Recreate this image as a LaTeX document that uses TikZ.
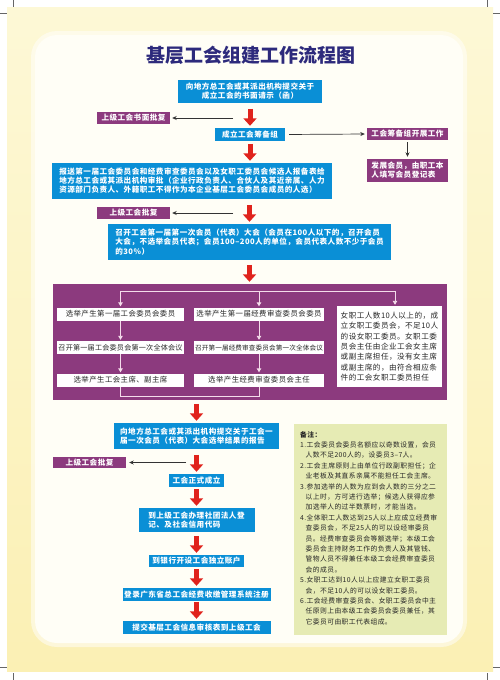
\documentclass[tikz,border=0pt]{standalone}
\usepackage{fontspec}
\setmainfont{Noto Sans CJK SC}
\usetikzlibrary{arrows.meta,calc}
\definecolor{cblue}{HTML}{0A8FD6}
\definecolor{cpur}{HTML}{8C3A7E}
\definecolor{cred}{HTML}{E0231C}
\definecolor{cnote}{HTML}{E6EBB4}
\definecolor{ctitle}{HTML}{2D2A7C}
\definecolor{cpink}{HTML}{F4DDEB}
\definecolor{cbgtop}{HTML}{FDF8D6}
\definecolor{cbgbot}{HTML}{FBF0B4}
\definecolor{cpanel}{HTML}{FFFEF6}
\newcommand\fontB{\bfseries\fontsize{7.6}{9}\selectfont\addfontfeature{LetterSpace=6}}
\newcommand\fontBB{\bfseries\fontsize{7.6}{9.6}\selectfont\addfontfeature{LetterSpace=6}}
\newcommand\fontR{\fontsize{7.4}{9}\selectfont\addfontfeature{LetterSpace=6}}
\newcommand\fontRa{\fontsize{7.1}{9}\selectfont\addfontfeature{LetterSpace=3}}
\newcommand\fontRb{\fontsize{6.6}{9}\selectfont\addfontfeature{LetterSpace=2}}
\newcommand\fontC{\fontsize{7.6}{10.4}\selectfont\addfontfeature{LetterSpace=6}}
\newcommand\fontN{\fontsize{6.8}{10.4}\selectfont\addfontfeature{LetterSpace=6}}
\begin{document}
\begin{tikzpicture}[x=1pt,y=-1pt,
  bluebox/.style={fill=cblue,text=white,inner sep=0pt,align=center,font=\fontB},
  pbox/.style={fill=cpur,text=white,inner sep=0pt,align=center,font=\fontB},
  wbox/.style={fill=white,text=black!85,inner sep=0pt,align=center,font=\fontR},
  redarr/.style={draw=cred,line width=5pt,-{Triangle[width=13pt,length=7.5pt]},shorten >=2pt},
  blkarr/.style={draw=black!80,line width=0.7pt,-{Stealth[length=4.5pt,width=4pt]}},
  wline/.style={draw=cpink,line width=0.9pt},
  warr/.style={draw=cpink,line width=0.9pt,-{Triangle[length=4pt,width=4.5pt]},shorten >=1pt},
  crop/.style={draw=black!60,line width=0.4pt}
]
\useasboundingbox (0,0) rectangle (500,680);
\fill[white] (0,0) rectangle (500,680);
\shade[top color=cbgtop,bottom color=cbgbot] (7,7) rectangle (493,671);
\fill[white,opacity=0.5,rounded corners=26pt] (31,31) rectangle (467,647);
\fill[cpanel,rounded corners=22pt] (35,35) rectangle (463,643);
% crop marks
\draw[crop] (13,0) -- (13,7); \draw[crop] (0,13) -- (7,13);
\draw[crop] (487,0) -- (487,7); \draw[crop] (493,13) -- (500,13);
\draw[crop] (0,667) -- (7,667); \draw[crop] (13,673) -- (13,680);
\draw[crop] (493,667) -- (500,667); \draw[crop] (487,673) -- (487,680);

\node[text=ctitle,font=\bfseries\fontsize{19}{19}\selectfont] (title) at (251,55) {基层工会组建工作流程图};

% upper flow
\node[bluebox,minimum width=144pt,minimum height=23pt] (b1) at (250,91.5) {向地方总工会或其派出机构提交关于\\成立工会的书面请示（函）};
\node[pbox,minimum width=73pt,minimum height=12pt] (a1) at (133.5,118) {上级工会书面批复};
\node[bluebox,minimum width=70pt,minimum height=13pt] (b2) at (250,134.5) {成立工会筹备组};
\node[pbox,minimum width=81pt,minimum height=12pt] (s1) at (407.5,134) {工会筹备组开展工作};
\node[pbox,minimum width=81pt,minimum height=23pt,align=left] (s2) at (407.5,170.5) {发展会员，由职工本\\人填写会员登记表};
\node[bluebox,minimum width=280pt,minimum height=36pt,align=left] (b3) at (192,181) {报送第一届工会委员会和经费审查委员会以及女职工委员会候选人报备表给\\地方总工会或其派出机构审批（企业行政负责人、合伙人及其近亲属、人力\\资源部门负责人、外籍职工不得作为本企业基层工会委员会成员的人选）};
\node[pbox,minimum width=73pt,minimum height=12pt] (a2) at (133.5,213) {上级工会批复};
\node[bluebox,minimum width=283pt,minimum height=36pt,align=left,font=\fontBB] (b4) at (249.5,242) {召开工会第一届第一次会员（代表）大会（会员在100人以下的，召开会员\\大会，不选举会员代表；会员100–200人的单位，会员代表人数不少于会员\\的30\%）};

% purple block
\node[fill=cpur,minimum width=394pt,minimum height=116pt,inner sep=0pt] (P) at (250,342) {};
\node[wbox,minimum width=127pt,minimum height=13pt] (c11) at (120.5,314) {选举产生第一届工会委员会委员};
\node[wbox,minimum width=127pt,minimum height=13pt,font=\fontRa] (c12) at (120.5,347.5) {召开第一届工会委员会第一次全体会议};
\node[wbox,minimum width=127pt,minimum height=13pt] (c13) at (120.5,380) {选举产生工会主席、副主席};
\node[wbox,minimum width=130pt,minimum height=13pt] (c21) at (259,314) {选举产生第一届经费审查委员会委员};
\node[wbox,minimum width=130pt,minimum height=13pt,font=\fontRb] (c22) at (259,347.5) {召开第一届经费审查委员会第一次全体会议};
\node[wbox,minimum width=130pt,minimum height=13pt] (c23) at (259,380) {选举产生经费审查委员会主任};
\node[wbox,minimum width=105pt,minimum height=81pt,align=left,font=\fontC] (c3) at (389.5,346.5) {女职工人数10人以上的，成\\立女职工委员会，不足10人\\的设女职工委员。女职工委\\员会主任由企业工会女主席\\或副主席担任，没有女主席\\或副主席的，由符合相应条\\件的工会女职工委员担任};
\coordinate (t1) at (120.5,291);
\coordinate (t3) at (395,291);
\draw[wline] (t1) -- (t3);
\draw[warr] (t1) -- (c11.north);
\draw[warr] (c21.north |- t1) -- (c21.north);
\draw[warr] (t3) -- (t3 |- c3.north);
\draw[warr] (c11) -- (c12);
\draw[warr] (c12) -- (c13);
\draw[warr] (c21) -- (c22);
\draw[warr] (c22) -- (c23);
\draw[wline] (c13.south) -- ++(0,9.5) -| (c23.south);

% lower flow
\node[bluebox,minimum width=165pt,minimum height=26pt,align=left] (b5) at (196.5,436) {向地方总工会或其派出机构提交关于工会一\\届一次会员（代表）大会选举结果的报告};
\node[pbox,minimum width=73pt,minimum height=11pt] (a3) at (89.5,462.5) {上级工会批复};
\node[bluebox,minimum width=55pt,minimum height=13pt] (b6) at (196.5,480.5) {工会正式成立};
\node[bluebox,minimum width=116pt,minimum height=24pt,align=left] (b7) at (196.5,520) {到上级工会办理社团法人登\\记、及社会信用代码};
\node[bluebox,minimum width=95pt,minimum height=12pt] (b8) at (196.5,561) {到银行开设工会独立账户};
\node[bluebox,minimum width=148pt,minimum height=13pt] (b9) at (196.5,594.5) {登录广东省总工会经费收缴管理系统注册};
\node[bluebox,minimum width=148pt,minimum height=13pt] (b10) at (196.5,627.5) {提交基层工会信息审核表到上级工会};

% notes
\node[fill=cnote,minimum width=153pt,minimum height=211pt,inner sep=0pt] (nb) at (370.5,529.5) {};
\node[anchor=north west,inner sep=0pt,align=left,font=\fontN,text=black!85] (nt) at (300,431) {\textbf{备注：}\\
1.工会委员会委员名额应以奇数设置，会员\\
\hspace*{5.5pt}人数不足200人的，设委员3–7人。\\
2.工会主席原则上由单位行政副职担任；企\\
\hspace*{5.5pt}业老板及其直系亲属不能担任工会主席。\\
3.参加选举的人数为应到会人数的三分之二\\
\hspace*{5.5pt}以上时，方可进行选举；候选人获得应参\\
\hspace*{5.5pt}加选举人的过半数票时，才能当选。\\
4.全体职工人数达到25人以上应成立经费审\\
\hspace*{5.5pt}查委员会，不足25人的可以设经审委员\\
\hspace*{5.5pt}员。经费审查委员会等额选举；本级工会\\
\hspace*{5.5pt}委员会主持财务工作的负责人及其管钱、\\
\hspace*{5.5pt}管物人员不得兼任本级工会经费审查委员\\
\hspace*{5.5pt}会的成员。\\
5.女职工达到10人以上应建立女职工委员\\
\hspace*{5.5pt}会，不足10人的可以设女职工委员。\\
6.工会经费审查委员会、女职工委员会中主\\
\hspace*{5.5pt}任原则上由本级工会委员会委员兼任，其\\
\hspace*{5.5pt}它委员可由职工代表组成。};

% red arrows
\draw[redarr] ($(b2.north)+(0,-19)$) -- (b2.north);
\draw[redarr] ($(b2.south |- b3.north)+(0,-19)$) -- (b2.south |- b3.north);
\draw[redarr] ($(b4.north)+(0,-19)$) -- (b4.north);
\draw[redarr] ($(b4.south |- P.north)+(0,-19)$) -- (b4.south |- P.north);
\draw[redarr] ($(b5.north)+(0,-19)$) -- (b5.north);
\draw[redarr] ($(b6.north)+(0,-19)$) -- (b6.north);
\draw[redarr] ($(b7.north)+(0,-19)$) -- (b7.north);
\draw[redarr] ($(b8.north)+(0,-19)$) -- (b8.north);
\draw[redarr] ($(b9.north)+(0,-19)$) -- (b9.north);
\draw[redarr] ($(b10.north)+(0,-19)$) -- (b10.north);

% black arrows
\coordinate (k1) at (233,118);
\coordinate (k2) at (233,213);
\coordinate (k3) at (186,462.5);
\draw[blkarr,shorten >=2pt] (k1) -- (a1.east);
\draw[blkarr,shorten >=2pt] (k2) -- (a2.east);
\draw[blkarr,shorten >=3pt] (k3) -- (a3.east);
\draw[blkarr,shorten <=4pt,shorten >=2pt] (b2.east) -- (s1.west);
\draw[blkarr,shorten <=2pt,shorten >=2pt] (s1.south) -- (s2.north);
\end{tikzpicture}
\end{document}
